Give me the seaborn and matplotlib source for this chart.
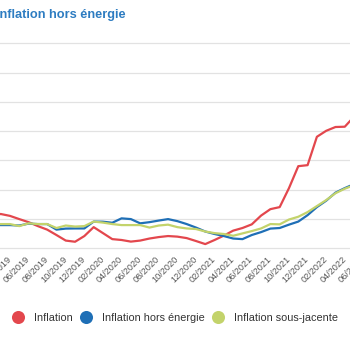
import pandas as pd
import seaborn as sns
import matplotlib.pyplot as plt
from matplotlib.lines import Line2D

# monthly values, 02/2019 -> 05/2022 (%)
months = list(pd.date_range("2019-02-01", "2022-05-01", freq="MS").strftime("%m/%Y"))
inflation = [2.15, 2.33, 2.20, 1.98, 1.77, 1.50, 1.26, 0.89, 0.51, 0.43,
             0.82, 1.43, 1.02, 0.61, 0.55, 0.44, 0.51, 0.65, 0.75, 0.82,
             0.78, 0.68, 0.48, 0.27, 0.55, 0.85, 1.19, 1.37, 1.62, 2.22,
             2.66, 2.80, 4.10, 5.60, 5.67, 7.61, 8.02, 8.28, 8.30, 8.99]
hors_energie = [1.57, 1.57, 1.57, 1.54, 1.67, 1.64, 1.64, 1.26, 1.33, 1.34,
                1.34, 1.81, 1.80, 1.73, 2.03, 1.98, 1.69, 1.77, 1.88, 1.98,
                1.84, 1.64, 1.40, 1.13, 0.96, 0.82, 0.65, 0.61, 0.89, 1.09,
                1.33, 1.37, 1.60, 1.81, 2.25, 2.80, 3.24, 3.79, 4.10, 4.37]
sous_jacente = [1.64, 1.64, 1.64, 1.50, 1.69, 1.64, 1.64, 1.37, 1.54, 1.47,
                1.50, 1.81, 1.74, 1.64, 1.57, 1.57, 1.57, 1.40, 1.54, 1.60,
                1.43, 1.34, 1.30, 1.13, 1.02, 0.96, 0.84, 1.00, 1.16, 1.34,
                1.64, 1.62, 1.95, 2.14, 2.46, 2.87, 3.28, 3.75, 4.06, 4.30]

# x labels every two months (04/2019 is month index 2)
tick_labels = ["04/2019", "06/2019", "08/2019", "10/2019", "12/2019",
               "02/2020", "04/2020", "06/2020", "08/2020", "10/2020", "12/2020",
               "02/2021", "04/2021", "06/2021", "08/2021", "10/2021", "12/2021",
               "02/2022", "04/2022", "06/2022"]

series = ["Inflation", "Inflation hors énergie", "Inflation sous-jacente"]
colors = {"Inflation": "#e3474d", "Inflation hors énergie": "#1f6fb6",
          "Inflation sous-jacente": "#c3d36b"}

df = pd.DataFrame({"pos": range(len(months)), "mois": months,
                   series[0]: inflation, series[1]: hors_energie, series[2]: sous_jacente})
df = df.melt(id_vars=["pos", "mois"], var_name="serie", value_name="valeur")

plt.rcParams['font.family'] = ['Liberation Sans', 'DejaVu Sans']

fig = plt.figure(figsize=(3.5, 3.5), dpi=100)
# the chart is cropped on both sides: the axes run past the figure edges
ax = fig.add_axes([0, 0.2788, 1.1, 0.6181])
sns.lineplot(data=df, x="pos", y="valeur", hue="serie", hue_order=series,
             palette=colors, linewidth=1.6, legend=False, ax=ax)

ax.set_xticks([2 + 2 * i for i in range(len(tick_labels))])
ax.set_xticklabels(tick_labels, rotation=45, ha="right", va="center",
                   rotation_mode="anchor", fontsize=6.6, color="#555555")
ax.tick_params(axis="x", length=0, pad=4)

ax.set_yticks(range(0, 15, 2))
ax.set_xlim(0.93, 0.93 + 37.63 * 1.1)
ax.set_ylim(-0.3, 14.5)
ax.yaxis.grid(True, color="#e2e2e2", linewidth=0.9)
ax.set_axisbelow(True)
ax.tick_params(axis="y", left=False, labelleft=False)
ax.set_xlabel("")
ax.set_ylabel("")
for s in ax.spines.values():
    s.set_visible(False)

fig.text(-0.011, 1 - 18.3 / 350, "Inflation hors énergie", fontsize=9.2,
         fontweight="bold", color="#2d7cc1", va="baseline")

handles = [Line2D([], [], linestyle="none", marker="o", markersize=9.4,
                  markerfacecolor=colors[s], markeredgewidth=0) for s in series]
fig.legend(handles, series, loc="center left", bbox_to_anchor=(6.5 / 350, 1 - 318 / 350),
           ncol=3, frameon=False, fontsize=7.8, handlelength=1.2, handletextpad=0.8,
           columnspacing=0.7, borderpad=0, labelcolor="#333333")

plt.savefig("out.png", dpi=100)
